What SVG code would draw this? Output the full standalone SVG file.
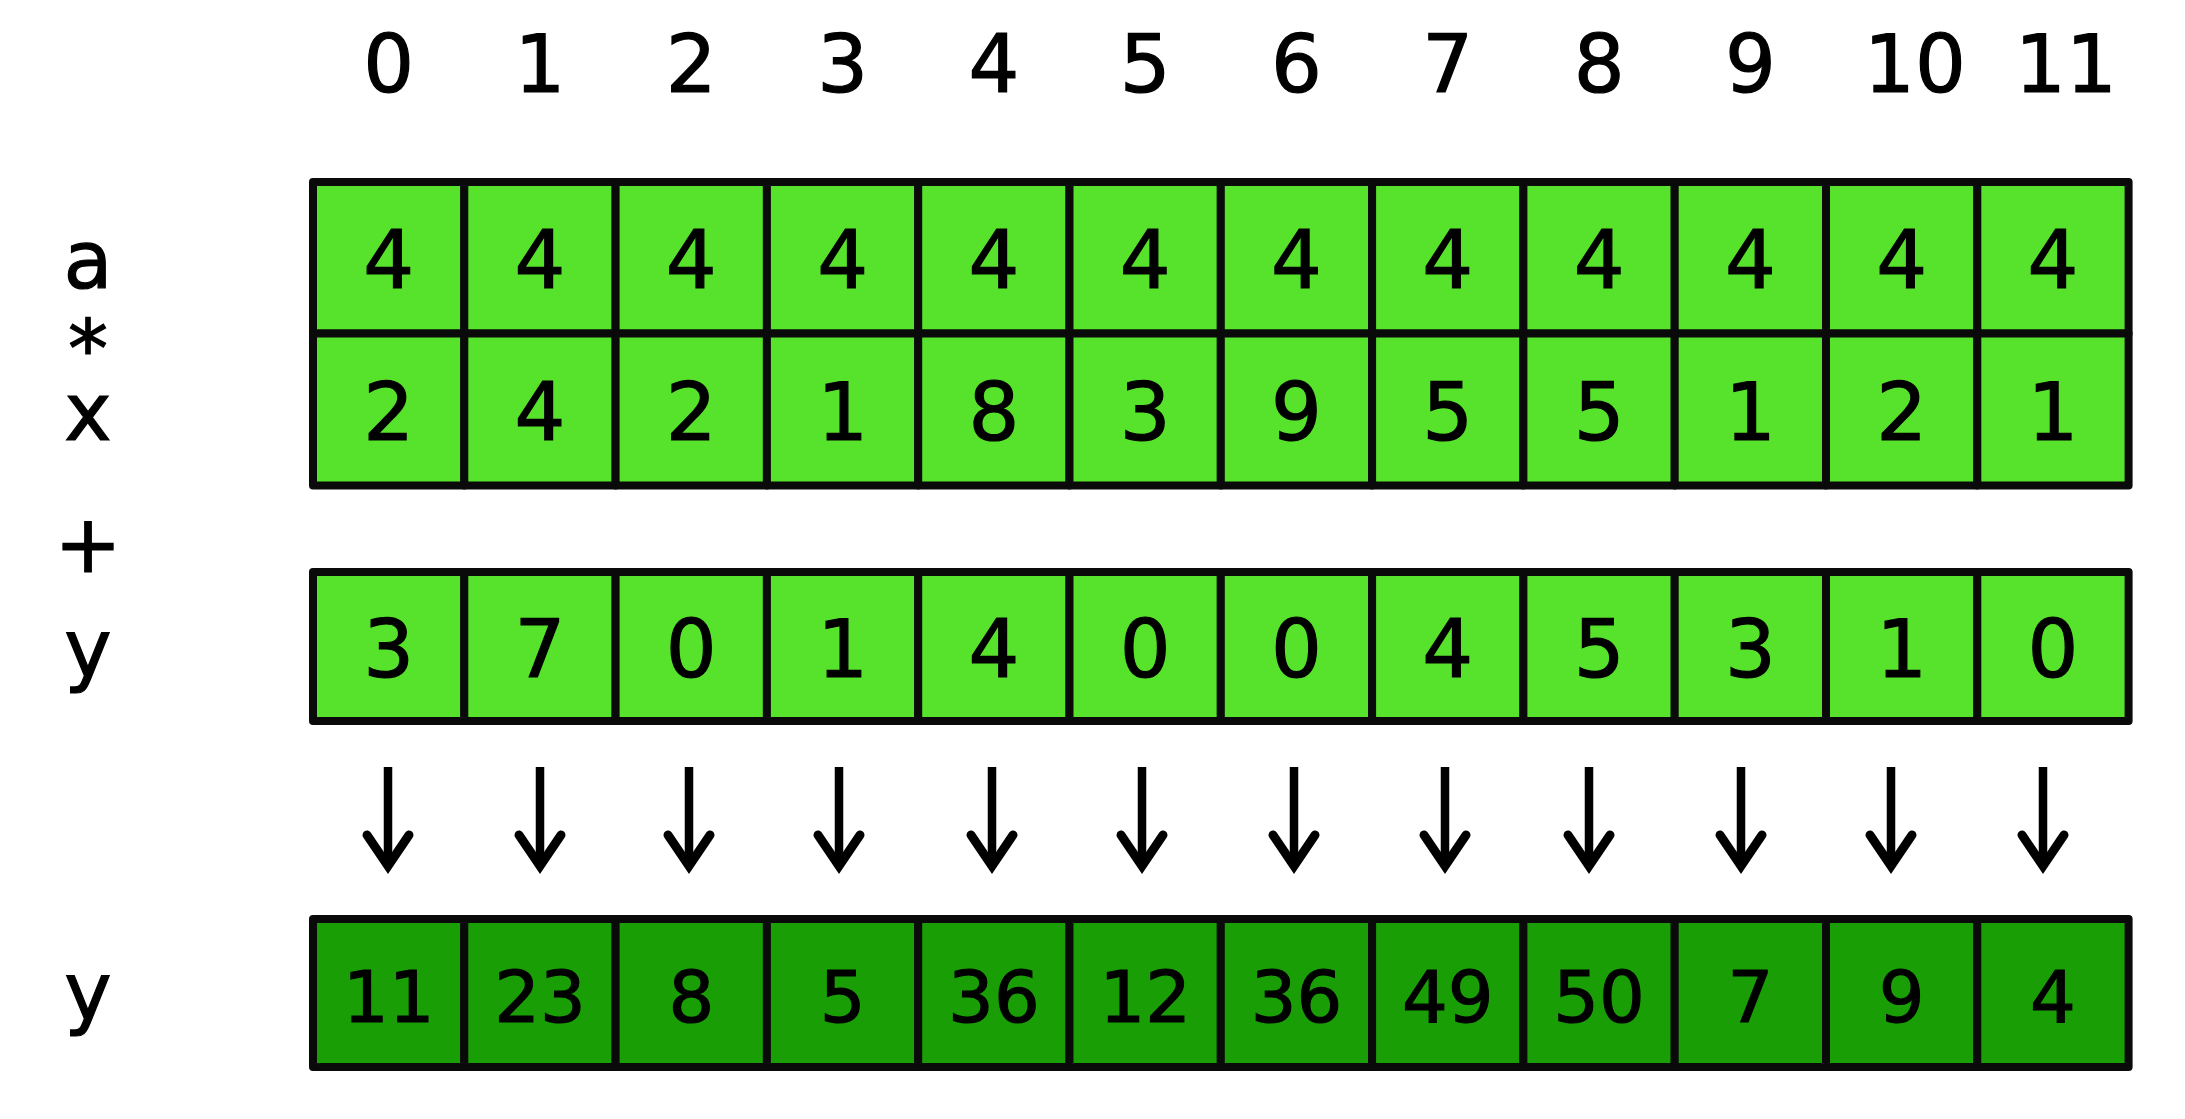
<svg xmlns="http://www.w3.org/2000/svg" width="2185" height="1119" viewBox="0 0 2185 1119">
<style>
.c{fill:#57e22b;stroke:#0a0a0a;stroke-width:8;stroke-linejoin:round}
.r{fill:#1a9e06;stroke:#0a0a0a;stroke-width:8;stroke-linejoin:round}
text{font-family:"DejaVu Sans","Verdana","Liberation Sans",sans-serif;fill:#000;stroke:#000;stroke-width:1.2;text-anchor:middle}
.n{font-size:80px}
.m{font-size:72px}
.i{font-size:80px}
.l{font-size:80px}
.ar{fill:none;stroke:#000;stroke-width:8.5}
.hd{fill:none;stroke:#000;stroke-width:9;stroke-linecap:round;stroke-linejoin:miter}
</style>
<rect width="2185" height="1119" fill="#fff"/>
<g id="indices">
<text class="i" x="388.7" y="92">0</text>
<text class="i" x="540" y="92">1</text>
<text class="i" x="691.3" y="92">2</text>
<text class="i" x="842.6" y="92">3</text>
<text class="i" x="993.9" y="92">4</text>
<text class="i" x="1145.2" y="92">5</text>
<text class="i" x="1296.5" y="92">6</text>
<text class="i" x="1447.8" y="92">7</text>
<text class="i" x="1599.1" y="92">8</text>
<text class="i" x="1750.4" y="92">9</text>
<text class="i" x="1915" y="92">10</text>
<text class="i" x="2066" y="92">11</text>
</g>
<g id="labels">
<text class="l" x="88" y="288">a</text>
<text class="l" x="88" y="377">*</text>
<text class="l" x="88" y="440">x</text>
<text class="l" x="88" y="572">+</text>
<text class="l" x="88" y="676">y</text>
<text class="l" x="88" y="1019">y</text>
</g>
<g id="row-a">
<g id="a0"><rect class="c" x="313" y="182" width="151.3" height="151.5"/><text class="n" x="388.7" y="288">4</text></g>
<g id="a1"><rect class="c" x="464.3" y="182" width="151.3" height="151.5"/><text class="n" x="540" y="288">4</text></g>
<g id="a2"><rect class="c" x="615.6" y="182" width="151.3" height="151.5"/><text class="n" x="691.3" y="288">4</text></g>
<g id="a3"><rect class="c" x="766.9" y="182" width="151.3" height="151.5"/><text class="n" x="842.6" y="288">4</text></g>
<g id="a4"><rect class="c" x="918.2" y="182" width="151.3" height="151.5"/><text class="n" x="993.9" y="288">4</text></g>
<g id="a5"><rect class="c" x="1069.5" y="182" width="151.3" height="151.5"/><text class="n" x="1145.2" y="288">4</text></g>
<g id="a6"><rect class="c" x="1220.8" y="182" width="151.3" height="151.5"/><text class="n" x="1296.5" y="288">4</text></g>
<g id="a7"><rect class="c" x="1372.1" y="182" width="151.3" height="151.5"/><text class="n" x="1447.8" y="288">4</text></g>
<g id="a8"><rect class="c" x="1523.4" y="182" width="151.3" height="151.5"/><text class="n" x="1599.1" y="288">4</text></g>
<g id="a9"><rect class="c" x="1674.7" y="182" width="151.3" height="151.5"/><text class="n" x="1750.4" y="288">4</text></g>
<g id="a10"><rect class="c" x="1826" y="182" width="151.3" height="151.5"/><text class="n" x="1901.7" y="288">4</text></g>
<g id="a11"><rect class="c" x="1977.3" y="182" width="151.3" height="151.5"/><text class="n" x="2053" y="288">4</text></g>
</g>
<g id="row-x">
<g id="x0"><rect class="c" x="313" y="333.5" width="151.3" height="152"/><text class="n" x="388.7" y="440">2</text></g>
<g id="x1"><rect class="c" x="464.3" y="333.5" width="151.3" height="152"/><text class="n" x="540" y="440">4</text></g>
<g id="x2"><rect class="c" x="615.6" y="333.5" width="151.3" height="152"/><text class="n" x="691.3" y="440">2</text></g>
<g id="x3"><rect class="c" x="766.9" y="333.5" width="151.3" height="152"/><text class="n" x="842.6" y="440">1</text></g>
<g id="x4"><rect class="c" x="918.2" y="333.5" width="151.3" height="152"/><text class="n" x="993.9" y="440">8</text></g>
<g id="x5"><rect class="c" x="1069.5" y="333.5" width="151.3" height="152"/><text class="n" x="1145.2" y="440">3</text></g>
<g id="x6"><rect class="c" x="1220.8" y="333.5" width="151.3" height="152"/><text class="n" x="1296.5" y="440">9</text></g>
<g id="x7"><rect class="c" x="1372.1" y="333.5" width="151.3" height="152"/><text class="n" x="1447.8" y="440">5</text></g>
<g id="x8"><rect class="c" x="1523.4" y="333.5" width="151.3" height="152"/><text class="n" x="1599.1" y="440">5</text></g>
<g id="x9"><rect class="c" x="1674.7" y="333.5" width="151.3" height="152"/><text class="n" x="1750.4" y="440">1</text></g>
<g id="x10"><rect class="c" x="1826" y="333.5" width="151.3" height="152"/><text class="n" x="1901.7" y="440">2</text></g>
<g id="x11"><rect class="c" x="1977.3" y="333.5" width="151.3" height="152"/><text class="n" x="2053" y="440">1</text></g>
</g>
<g id="row-y">
<g id="y0"><rect class="c" x="313" y="572" width="151.3" height="149"/><text class="n" x="388.7" y="677">3</text></g>
<g id="y1"><rect class="c" x="464.3" y="572" width="151.3" height="149"/><text class="n" x="540" y="677">7</text></g>
<g id="y2"><rect class="c" x="615.6" y="572" width="151.3" height="149"/><text class="n" x="691.3" y="677">0</text></g>
<g id="y3"><rect class="c" x="766.9" y="572" width="151.3" height="149"/><text class="n" x="842.6" y="677">1</text></g>
<g id="y4"><rect class="c" x="918.2" y="572" width="151.3" height="149"/><text class="n" x="993.9" y="677">4</text></g>
<g id="y5"><rect class="c" x="1069.5" y="572" width="151.3" height="149"/><text class="n" x="1145.2" y="677">0</text></g>
<g id="y6"><rect class="c" x="1220.8" y="572" width="151.3" height="149"/><text class="n" x="1296.5" y="677">0</text></g>
<g id="y7"><rect class="c" x="1372.1" y="572" width="151.3" height="149"/><text class="n" x="1447.8" y="677">4</text></g>
<g id="y8"><rect class="c" x="1523.4" y="572" width="151.3" height="149"/><text class="n" x="1599.1" y="677">5</text></g>
<g id="y9"><rect class="c" x="1674.7" y="572" width="151.3" height="149"/><text class="n" x="1750.4" y="677">3</text></g>
<g id="y10"><rect class="c" x="1826" y="572" width="151.3" height="149"/><text class="n" x="1901.7" y="677">1</text></g>
<g id="y11"><rect class="c" x="1977.3" y="572" width="151.3" height="149"/><text class="n" x="2053" y="677">0</text></g>
</g>
<g id="connectors">
<g id="arrow0"><path class="ar" d="M388 767V862"/><path class="hd" d="M367 835L388 866L409 835"/></g>
<g id="arrow1"><path class="ar" d="M540 767V862"/><path class="hd" d="M519 835L540 866L561 835"/></g>
<g id="arrow2"><path class="ar" d="M689 767V862"/><path class="hd" d="M668 835L689 866L710 835"/></g>
<g id="arrow3"><path class="ar" d="M839 767V862"/><path class="hd" d="M818 835L839 866L860 835"/></g>
<g id="arrow4"><path class="ar" d="M992 767V862"/><path class="hd" d="M971 835L992 866L1013 835"/></g>
<g id="arrow5"><path class="ar" d="M1142 767V862"/><path class="hd" d="M1121 835L1142 866L1163 835"/></g>
<g id="arrow6"><path class="ar" d="M1294 767V862"/><path class="hd" d="M1273 835L1294 866L1315 835"/></g>
<g id="arrow7"><path class="ar" d="M1445 767V862"/><path class="hd" d="M1424 835L1445 866L1466 835"/></g>
<g id="arrow8"><path class="ar" d="M1589 767V862"/><path class="hd" d="M1568 835L1589 866L1610 835"/></g>
<g id="arrow9"><path class="ar" d="M1741 767V862"/><path class="hd" d="M1720 835L1741 866L1762 835"/></g>
<g id="arrow10"><path class="ar" d="M1891 767V862"/><path class="hd" d="M1870 835L1891 866L1912 835"/></g>
<g id="arrow11"><path class="ar" d="M2043 767V862"/><path class="hd" d="M2022 835L2043 866L2064 835"/></g>
</g>
<g id="row-result">
<g id="r0"><rect class="r" x="313" y="919" width="151.3" height="148"/><text class="m" x="388.7" y="1022">11</text></g>
<g id="r1"><rect class="r" x="464.3" y="919" width="151.3" height="148"/><text class="m" x="540" y="1022">23</text></g>
<g id="r2"><rect class="r" x="615.6" y="919" width="151.3" height="148"/><text class="m" x="691.3" y="1022">8</text></g>
<g id="r3"><rect class="r" x="766.9" y="919" width="151.3" height="148"/><text class="m" x="842.6" y="1022">5</text></g>
<g id="r4"><rect class="r" x="918.2" y="919" width="151.3" height="148"/><text class="m" x="993.9" y="1022">36</text></g>
<g id="r5"><rect class="r" x="1069.5" y="919" width="151.3" height="148"/><text class="m" x="1145.2" y="1022">12</text></g>
<g id="r6"><rect class="r" x="1220.8" y="919" width="151.3" height="148"/><text class="m" x="1296.5" y="1022">36</text></g>
<g id="r7"><rect class="r" x="1372.1" y="919" width="151.3" height="148"/><text class="m" x="1447.8" y="1022">49</text></g>
<g id="r8"><rect class="r" x="1523.4" y="919" width="151.3" height="148"/><text class="m" x="1599.1" y="1022">50</text></g>
<g id="r9"><rect class="r" x="1674.7" y="919" width="151.3" height="148"/><text class="m" x="1750.4" y="1022">7</text></g>
<g id="r10"><rect class="r" x="1826" y="919" width="151.3" height="148"/><text class="m" x="1901.7" y="1022">9</text></g>
<g id="r11"><rect class="r" x="1977.3" y="919" width="151.3" height="148"/><text class="m" x="2053" y="1022">4</text></g>
</g>
</svg>
